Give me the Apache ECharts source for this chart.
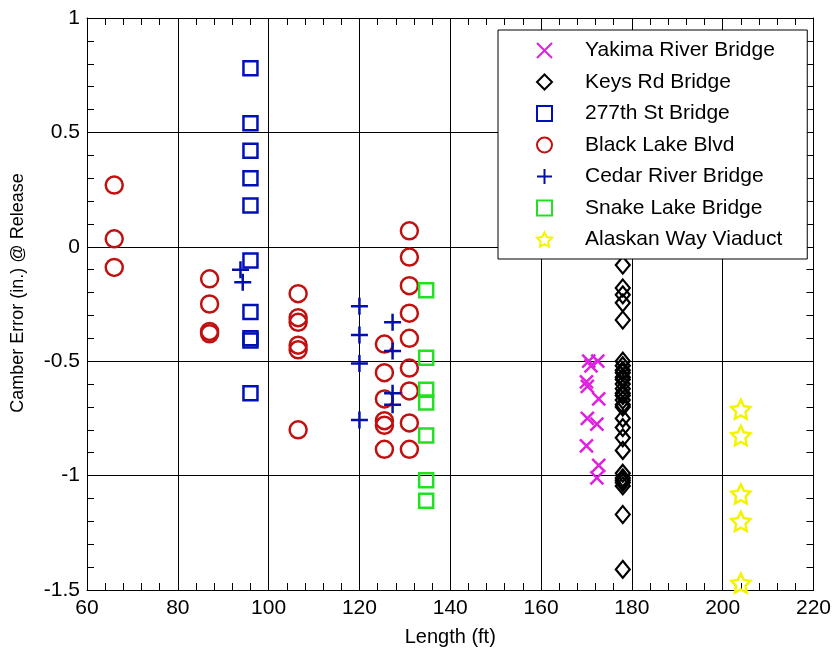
<!DOCTYPE html>
<html>
<head>
<meta charset="utf-8">
<script src="https://cdn.jsdelivr.net/npm/echarts@6/dist/echarts.min.js"></script>
<style>
html,body{margin:0;padding:0;background:#fff;}
#chart{width:834px;height:656px;}
</style>
</head>
<body>
<div id="chart"></div>
<script>
// ---- data ----
const seriesNames = ["Yakima River Bridge","Keys Rd Bridge","277th St Bridge","Black Lake Blvd","Cedar River Bridge","Snake Lake Bridge","Alaskan Way Viaduct"];

const yakimaX = [170.5, 172.5, 171, 170, 170.2, 172.7, 170.2, 172.3, 170, 172.7, 172.3];
const yakimaY = [-0.50, -0.50, -0.52, -0.59, -0.61, -0.665, -0.75, -0.775, -0.87, -0.955, -1.01];

const keysX = [178,178,178,178,178,178,178,178,178,178,178,178,178,178,178,178,178,178,178,178,178,178,178,178,178,178,178,178,178];
const keysY = [-0.08,-0.18,-0.21,-0.245,-0.32,-0.50,-0.52,-0.54,-0.55,-0.57,-0.58,-0.60,-0.62,-0.64,-0.65,-0.67,-0.69,-0.70,-0.75,-0.79,-0.835,-0.89,-0.99,-1.01,-1.02,-1.03,-1.045,-1.17,-1.41];

const st277X = [96,96,96,96,96,96,96,96,96,96];
const st277Y = [0.78,0.54,0.42,0.30,0.18,-0.06,-0.285,-0.40,-0.41,-0.64];

const blackLakeX = [66,66,66, 87,87,87,87, 106.5,106.5,106.5,106.5,106.5,106.5, 125.5,125.5,125.5,125.5,125.5,125.5, 131,131,131,131,131,131,131,131,131];
const blackLakeY = [0.27,0.035,-0.09, -0.14,-0.25,-0.37,-0.38, -0.205,-0.31,-0.33,-0.43,-0.45,-0.80, -0.425,-0.55,-0.665,-0.76,-0.78,-0.885, 0.07,-0.045,-0.17,-0.29,-0.40,-0.53,-0.63,-0.77,-0.885];

const cedarX = [93.8,94.3, 120,120,120,120, 127.3,127.3,127.3,127.3];
const cedarY = [-0.10,-0.155, -0.26,-0.385,-0.51,-0.757, -0.33,-0.455,-0.64,-0.69];

const snakeX = [134.7,134.7,134.7,134.7,134.7,134.7,134.7];
const snakeY = [-0.19,-0.485,-0.625,-0.68,-0.825,-1.02,-1.11];

const alaskanX = [204,204,204,204,204];
const alaskanY = [-0.71,-0.825,-1.08,-1.20,-1.47];

const xTicks = [60,80,100,120,140,160,180,200,220];
const yTicks = [-1.5,-1,-0.5,0,0.5,1];

// ---- build ----
const zip = (xs, ys) => xs.map((x, i) => [x, ys[i]]);
const FONT = 'Liberation Sans';
const hollow = 'rgba(0,0,0,0)';
const starPath = 'path://M10,0 L12.94,5.95 L19.51,6.91 L14.76,11.55 L15.88,18.09 L10,15 L4.12,18.09 L5.24,11.55 L0.49,6.91 L7.06,5.95 Z';
const xPath = 'path://M0,0 L10,10 M10,0 L0,10';
const plusPath = 'path://M5,0 L5,10 M0,5 L10,5';

function sc(name, xs, ys, symbol, size, color, bw) {
  return {
    name, type: 'scatter', data: zip(xs, ys),
    symbol, symbolSize: size,
    itemStyle: { color: hollow, borderColor: color, borderWidth: bw, opacity: 1 },
    emphasis: { disabled: true },
    animation: false
  };
}

const series = [
  sc(seriesNames[0], yakimaX, yakimaY, xPath, 13, '#e020e0', 2.5),
  sc(seriesNames[1], keysX, keysY, 'diamond', [14, 17], '#000000', 2.2),
  sc(seriesNames[2], st277X, st277Y, 'rect', 14, '#0010b8', 2.5),
  sc(seriesNames[3], blackLakeX, blackLakeY, 'circle', 17, '#c01010', 2.5),
  sc(seriesNames[4], cedarX, cedarY, plusPath, 17, '#0010a8', 2.5),
  sc(seriesNames[5], snakeX, snakeY, 'rect', 14, '#22e022', 2.5),
  sc(seriesNames[6], alaskanX, alaskanY, starPath, 19, '#f4f400', 2.5)
];

const axisCommon = {
  axisLine: { show: true, onZero: false, lineStyle: { color: '#000', width: 1 } },
  axisTick: { show: true, inside: true, length: 7, lineStyle: { color: '#000' } },
  minorTick: { show: true, splitNumber: 5, length: 7, lineStyle: { color: '#000' } },
  axisLabel: { color: '#000', fontFamily: FONT, fontSize: 21 }
};

const chart = echarts.init(document.getElementById('chart'), null, { renderer: 'canvas' });
chart.setOption({
  backgroundColor: '#ffffff',
  animation: false,
  grid: { left: 87, right: 16, top: 18, bottom: 66, containLabel: false },
  xAxis: [
    Object.assign({}, axisCommon, {
      type: 'value', min: xTicks[0], max: xTicks[xTicks.length - 1], interval: 20,
      position: 'bottom',
      name: 'Length (ft)', nameLocation: 'middle', nameGap: 37,
      nameTextStyle: { color: '#000', fontFamily: FONT, fontSize: 20 },
      axisLabel: { color: '#000', fontFamily: FONT, fontSize: 21, margin: 8 },
      splitLine: { show: true, lineStyle: { color: '#000', width: 1 } }
    }),
    Object.assign({}, axisCommon, {
      type: 'value', min: xTicks[0], max: xTicks[xTicks.length - 1], interval: 20,
      position: 'top', axisLabel: { show: false }, splitLine: { show: false }
    })
  ],
  yAxis: [
    Object.assign({}, axisCommon, {
      type: 'value', min: yTicks[0], max: yTicks[yTicks.length - 1], interval: 0.5,
      position: 'left',
      name: 'Camber Error (in.) @ Release', nameLocation: 'middle', nameGap: 60, nameRotate: 90,
      nameTextStyle: { color: '#000', fontFamily: FONT, fontSize: 18, padding: [0, 0, 0, 22] },
      axisLabel: { color: '#000', fontFamily: FONT, fontSize: 21, margin: 7 },
      splitLine: { show: true, lineStyle: { color: '#000', width: 1 } }
    }),
    Object.assign({}, axisCommon, {
      type: 'value', min: yTicks[0], max: yTicks[yTicks.length - 1], interval: 0.5,
      position: 'right', axisLabel: { show: false }, splitLine: { show: false }
    })
  ],
  legend: {
    show: true, orient: 'vertical', left: 498, top: 30,
    padding: [10, 25, 9, 38],
    backgroundColor: '#ffffff', borderColor: '#000', borderWidth: 1,
    itemWidth: 15, itemHeight: 15, itemGap: 10.5,
    textStyle: { color: '#000', fontFamily: FONT, fontSize: 21, padding: [0, 0, 0, 28] },
    data: seriesNames
  },
  series
});
</script>
</body>
</html>
